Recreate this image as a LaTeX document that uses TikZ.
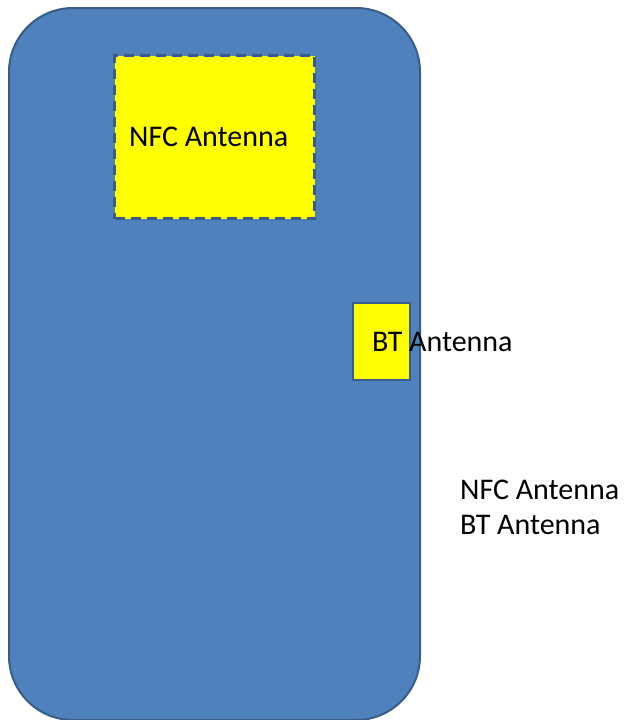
\documentclass[tikz,border=0pt]{standalone}
\usepackage{fontspec}
\setmainfont{Carlito}
\usepackage{tikz}
\definecolor{bodyblue}{HTML}{4F81BD}
\definecolor{edgeblue}{HTML}{385D8A}
\definecolor{padyellow}{HTML}{FFFF00}
\begin{document}
\begin{tikzpicture}[x=1pt,y=-1pt,
	phone/.style={draw=edgeblue,line width=2pt,fill=bodyblue,rounded corners=64pt,inner sep=0pt},
	antenna/.style={draw=edgeblue,line width=2pt,fill=padyellow,inner sep=0pt},
	label/.style={font=\fontsize{30}{35}\selectfont,inner sep=0pt,anchor=west}]
				\useasboundingbox (0,0) rectangle (625,720);
				\node[phone,minimum width=411pt,minimum height=712pt] (body) at (214.5,364) {};
				\node[antenna,line width=2.5pt,dash pattern=on 10pt off 6pt,minimum width=200pt,minimum height=163pt] (nfc) at (214.5,137) {};
				\node[antenna,minimum width=57pt,minimum height=77pt] (bt) at (381.5,341) {};
				\node[label] (nfctext) at (129,137) {NFC Antenna};
				\node[label] (bttext) at (372,342) {BT Antenna};
				\node[label,align=left] (legend) at (460,507) {NFC Antenna\\BT Antenna};
			\end{tikzpicture}
\end{document}
